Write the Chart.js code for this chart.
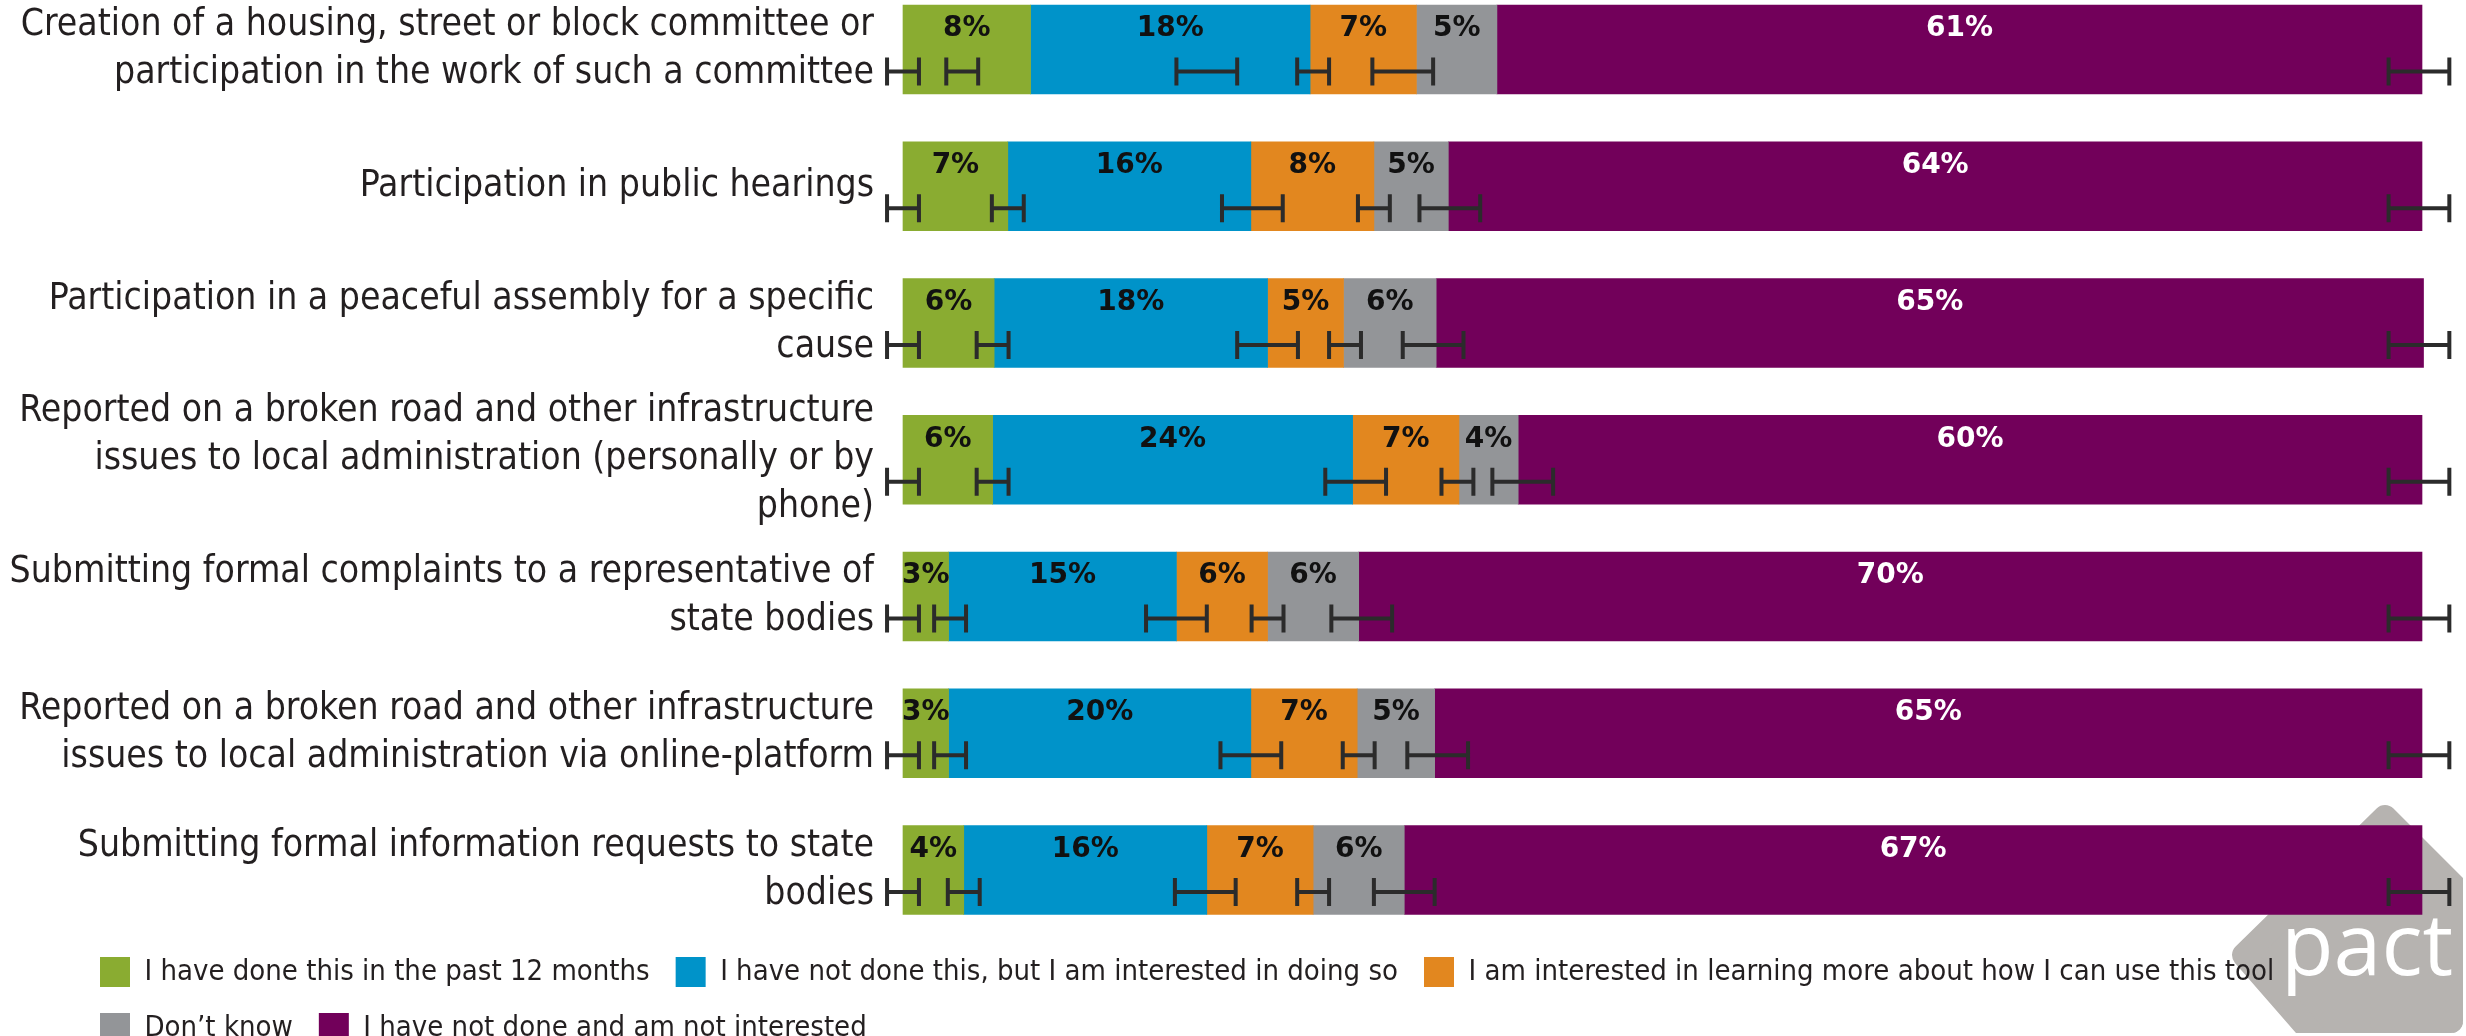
<!DOCTYPE html>
<html lang="en">

<head>
    <meta charset="UTF-8">
    <title>Civic participation tools</title>
    <style>
        body {
            margin: 0;
            background: #ffffff;
        }

        #chartBox {
            width: 2466px;
            height: 1036px;
        }
    </style>
</head>

<body>
    <div id="chartBox">
        <canvas id="participationChart" width="2466" height="1036"></canvas>
    </div>

    <script src="https://cdn.jsdelivr.net/npm/chart.js"></script>

    <script>
        // Categories (already wrapped the way the original shows them)
        const activities = [
            ["Creation of a housing, street or block committee or", "participation in the work of such a committee"],
            ["Participation in public hearings"],
            ["Participation in a peaceful assembly for a specific", "cause"],
            ["Reported on a broken road and other infrastructure", "issues to local administration (personally or by", "phone)"],
            ["Submitting formal complaints to a representative of", "state bodies"],
            ["Reported on a broken road and other infrastructure", "issues to local administration via online-platform"],
            ["Submitting formal information requests to state", "bodies"]
        ];

        const seriesNames = [
            "I have done this in the past 12 months",
            "I have not done this, but I am interested in doing so",
            "I am interested in learning more about how I can use this tool",
            "Don\u2019t know",
            "I have not done and am not interested"
        ];

        // Shares in % (labels are these values rounded)
        const doneLastYear = [8.4, 6.9, 6.0, 5.9, 3.0, 3.0, 4.0];
        const interested = [18.4, 16.0, 18.0, 23.7, 15.0, 19.9, 16.0];
        const wantToLearn = [7.0, 8.1, 5.0, 7.0, 6.0, 7.0, 7.0];
        const dontKnow = [5.3, 4.9, 6.1, 3.9, 6.0, 5.1, 6.0];
        const notInterested = [60.9, 64.1, 65.0, 59.5, 70.0, 65.0, 67.0];

        // Error bar centres (in %) for each row, and their half widths
        const errAtStart = [0, 0, 0, 0, 0, 0, 0];
        const errAfterDone = [3.9, 6.9, 5.9, 5.9, 3.1, 3.1, 4.0];
        const errAfterInterested = [20.0, 23.0, 24.0, 29.8, 18.0, 22.9, 19.9];
        const errAfterLearn = [27.0, 31.0, 29.1, 36.5, 24.0, 30.0, 27.0];
        const errAfterDontKnow = [32.9, 36.0, 34.9, 40.8, 30.2, 35.2, 33.0];
        const errAtEnd = [99.8, 99.8, 99.8, 99.8, 99.8, 99.8, 99.8];
        const errHalfWidths = [1.05, 1.05, 2.0, 1.05, 2.0, 2.0];

        const colours = ['#8aac31', '#0093c9', '#e2871f', '#939598', '#72005a'];
        const labelColours = ['#111111', '#111111', '#111111', '#111111', '#ffffff'];

        const narrowFont = '"Liberation Sans Narrow", "DejaVu Sans Condensed", "Roboto", sans-serif';

        // pact logo in the lower right corner, behind everything
        const logoPlugin = {
            id: 'pactLogo',
            beforeDraw(chart) {
                const ctx = chart.ctx;
                ctx.save();
                ctx.beginPath();
                ctx.roundRect(2150, 780, 313, 253, 12);
                ctx.clip();
                ctx.fillStyle = '#b6b3b0';
                ctx.strokeStyle = '#b6b3b0';
                ctx.lineWidth = 24;
                ctx.lineJoin = 'round';
                ctx.beginPath();
                ctx.moveTo(2385, 817);
                ctx.lineTo(2535, 967);
                ctx.lineTo(2385, 1117);
                ctx.lineTo(2244, 955);
                ctx.closePath();
                ctx.fill();
                ctx.stroke();
                ctx.restore();

                ctx.save();
                ctx.fillStyle = '#ffffff';
                ctx.font = '86px "Open Sans", sans-serif';
                ctx.textBaseline = 'alphabetic';
                ctx.fillText('pact', 2281, 975);
                ctx.restore();
            }
        };

        // the legend starts further right than the category labels
        const legendIndent = {
            id: 'legendIndent',
            afterLayout(chart) {
                chart.legend.left = 74;
            }
        };

        // percentage labels in the upper part of each segment
        const segmentLabels = {
            id: 'segmentLabels',
            afterDatasetsDraw(chart) {
                const ctx = chart.ctx;
                ctx.save();
                ctx.font = 'bold 28px "DejaVu Sans", sans-serif';
                ctx.textAlign = 'center';
                ctx.textBaseline = 'middle';
                chart.data.datasets.forEach((ds, di) => {
                    const meta = chart.getDatasetMeta(di);
                    meta.data.forEach((bar, i) => {
                        const p = bar.getProps(['x', 'y', 'base', 'height'], true);
                        ctx.fillStyle = labelColours[di];
                        ctx.fillText(Math.round(ds.data[i]) + '%', (p.x + p.base) / 2, p.y - p.height * 0.23);
                    });
                });
                ctx.restore();
            }
        };

        // "H" shaped error bars in the lower part of each row
        const errorBars = {
            id: 'errorBars',
            afterDatasetsDraw(chart) {
                const ctx = chart.ctx;
                const xs = chart.scales.x;
                const ys = chart.scales.y;
                const groups = [errAtStart, errAfterDone, errAfterInterested, errAfterLearn, errAfterDontKnow, errAtEnd];
                ctx.save();
                ctx.strokeStyle = '#2b2b2b';
                ctx.lineWidth = 4;
                activities.forEach((a, row) => {
                    const y = ys.getPixelForValue(row) + 22;
                    groups.forEach((centres, g) => {
                        const x1 = xs.getPixelForValue(centres[row] - errHalfWidths[g]);
                        const x2 = xs.getPixelForValue(centres[row] + errHalfWidths[g]);
                        ctx.beginPath();
                        ctx.moveTo(x1, y);
                        ctx.lineTo(x2, y);
                        ctx.moveTo(x1, y - 14);
                        ctx.lineTo(x1, y + 14);
                        ctx.moveTo(x2, y - 14);
                        ctx.lineTo(x2, y + 14);
                        ctx.stroke();
                    });
                });
                ctx.restore();
            }
        };

        const seriesData = [doneLastYear, interested, wantToLearn, dontKnow, notInterested];

        const ctx = document.getElementById('participationChart').getContext('2d');
        const participationChart = new Chart(ctx, {
            type: 'bar',
            data: {
                labels: activities,
                datasets: seriesData.map((values, i) => ({
                    label: seriesNames[i],
                    data: values,
                    backgroundColor: colours[i],
                    borderWidth: 0,
                    barThickness: 89,
                    clip: false
                }))
            },
            options: {
                indexAxis: 'y',
                responsive: false,
                animation: false,
                layout: {
                    padding: { left: 0, right: 44, top: 49.5, bottom: -17 }
                },
                scales: {
                    x: {
                        stacked: true,
                        min: 0,
                        max: 100,
                        grid: { display: false, drawTicks: false },
                        border: { display: false },
                        ticks: { display: false },
                        afterFit: (scale) => {
                            scale.height = 61;
                            scale.paddingLeft = 0;
                            scale.paddingRight = 0;
                        }
                    },
                    y: {
                        stacked: true,
                        offset: false,
                        grid: { display: false, drawTicks: false },
                        border: { display: false },
                        ticks: {
                            autoSkip: false,
                            padding: 29,
                            color: '#231f20',
                            font: { family: narrowFont, size: 37, lineHeight: 1.3 }
                        },
                        afterFit: (scale) => {
                            scale.width = 903;
                            scale.paddingTop = 0;
                            scale.paddingBottom = 0;
                        }
                    }
                },
                plugins: {
                    legend: {
                        position: 'bottom',
                        align: 'start',
                        labels: {
                            boxWidth: 30,
                            boxHeight: 30,
                            padding: 26,
                            color: '#231f20',
                            font: { family: narrowFont, size: 29 }
                        }
                    },
                    tooltip: { enabled: false }
                }
            },
            plugins: [logoPlugin, legendIndent, segmentLabels, errorBars]
        });
    </script>
</body>
</html>
